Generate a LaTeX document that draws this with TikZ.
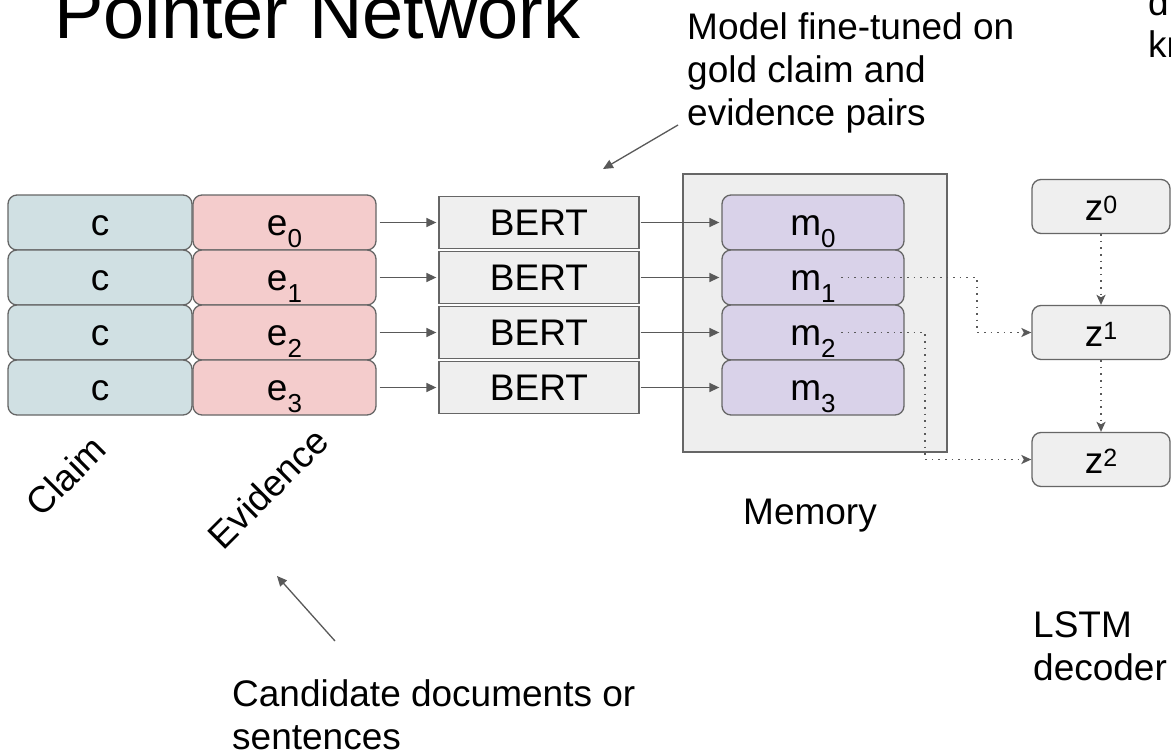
\documentclass[tikz,border=0pt]{standalone}
\usepackage{fontspec}
\setmainfont{Liberation Sans}
\usetikzlibrary{arrows.meta,calc}
\definecolor{claimc}{HTML}{D0E0E3}
\definecolor{evic}{HTML}{F4CCCC}
\definecolor{memc}{HTML}{D9D2E9}
\definecolor{boxg}{HTML}{EFEFEF}
\definecolor{memg}{HTML}{EEEEEE}
\definecolor{edgec}{HTML}{666666}
\definecolor{arrc}{HTML}{595959}
\newcommand\lblfont{\fontsize{37}{43}\selectfont}
\newcommand\mysub[1]{\raisebox{-12pt}{\fontsize{26}{26}\selectfont #1}}
\newcommand\mysup[1]{\raisebox{7pt}{\fontsize{25}{25}\selectfont #1}}
\tikzset{
  box/.style={draw=edgec, line width=1.3pt, minimum height=55pt, inner sep=0pt,
    text height=25pt, text depth=0pt, font=\lblfont},
  claimbox/.style={box, rounded corners=9pt, fill=claimc, minimum width=184pt},
  evibox/.style={box, rounded corners=9pt, fill=evic, minimum width=183pt},
  bertbox/.style={box, fill=boxg, minimum width=200pt, minimum height=52pt},
  membox/.style={box, rounded corners=9pt, fill=memc, minimum width=182pt},
  zbox/.style={box, rounded corners=9pt, fill=boxg, minimum width=138pt, minimum height=54pt, text height=27pt},
  memframe/.style={draw=edgec, fill=memg, line width=1.3pt, inner sep=0pt, minimum width=264pt, minimum height=278pt},
  arr/.style={draw=arrc, line width=1.5pt, -{Triangle[length=10pt,width=9pt]}},
  thinarr/.style={draw=arrc, line width=1.3pt, -{Triangle[length=10pt,width=9pt]}},
  dotarr/.style={draw=arrc, line width=1.6pt, dash pattern=on 1.6pt off 5pt, -{Stealth[length=10pt,width=9pt,inset=2.5pt]}},
  txt/.style={font=\lblfont, inner sep=0pt, anchor=base west, align=left},
}
\begin{document}
\begin{tikzpicture}[x=1pt,y=-1pt]
\useasboundingbox (0,0) rectangle (1171,755);
\fill[white] (0,0) rectangle (1171,755);
\clip (0,0) rectangle (1171,755);

% title and labels (multi-line nodes are placed by the baseline of their last line)
\node[font=\fontsize{74}{80}\selectfont, inner sep=0pt, anchor=base west] (title) at (54,38) {Pointer Network};
\node[txt] (ann) at (687,125) {Model fine-tuned on\\gold claim and\\evidence pairs};
\node[txt, font=\fontsize{37}{42}\selectfont] (topright) at (1148,57) {di\\kn};

% memory frame
\node[memframe] (mem) at (815,313) {};

% rows
\foreach \i/\y in {0/222.5,1/277.5,2/332.5,3/387.5}{
  \node[claimbox] (c\i) at (100,\y) {c};
  \node[evibox] (e\i) at (284.5,\y) {e\mysub{\i}};
  \node[bertbox] (b\i) at (539,\y) {BERT};
  \node[membox] (m\i) at (813,\y) {m\mysub{\i}};
}
\foreach \i in {0,...,3}{
  \draw[arr, shorten <=3pt, shorten >=2pt] (e\i) -- (b\i);
  \draw[arr, shorten <=1pt, shorten >=2pt] (b\i) -- (m\i);
}

% decoder
\node[zbox] (z0) at (1101,206.5) {z\mysup{0}};
\node[zbox] (z1) at (1101,332.5) {z\mysup{1}};
\node[zbox] (z2) at (1101,459.5) {z\mysup{2}};
\draw[dotarr] (z0) -- (z1);
\draw[dotarr] (z1) -- (z2);

\coordinate (m1out) at (841,277.5);
\coordinate (m2out) at (841,332.5);
\draw[dotarr] (m1out) -- (977,277.5) |- (z1.west);
\draw[dotarr] (m2out) -- (925,332.5) |- (z2.west);

% rotated labels
\node[font=\lblfont, rotate=45, inner sep=0pt] (claimlbl) at (66,476) {Claim};
\node[font=\lblfont, rotate=45, inner sep=0pt] (evilbl) at (268,488) {Evidence};

\node[txt] (memlbl) at (743,524) {Memory};
\node[txt] (lstm) at (1033,680) {LSTM\\decoder};
\node[txt] (cand) at (232,749) {Candidate documents or\\sentences};

% annotation arrows
\coordinate (annfrom) at (678,125);
\coordinate (annto) at (603,169);
\draw[thinarr] (annfrom) -- (annto);
\coordinate (candfrom) at (335,641);
\coordinate (candto) at (277,576);
\draw[thinarr] (candfrom) -- (candto);
\end{tikzpicture}
\end{document}
